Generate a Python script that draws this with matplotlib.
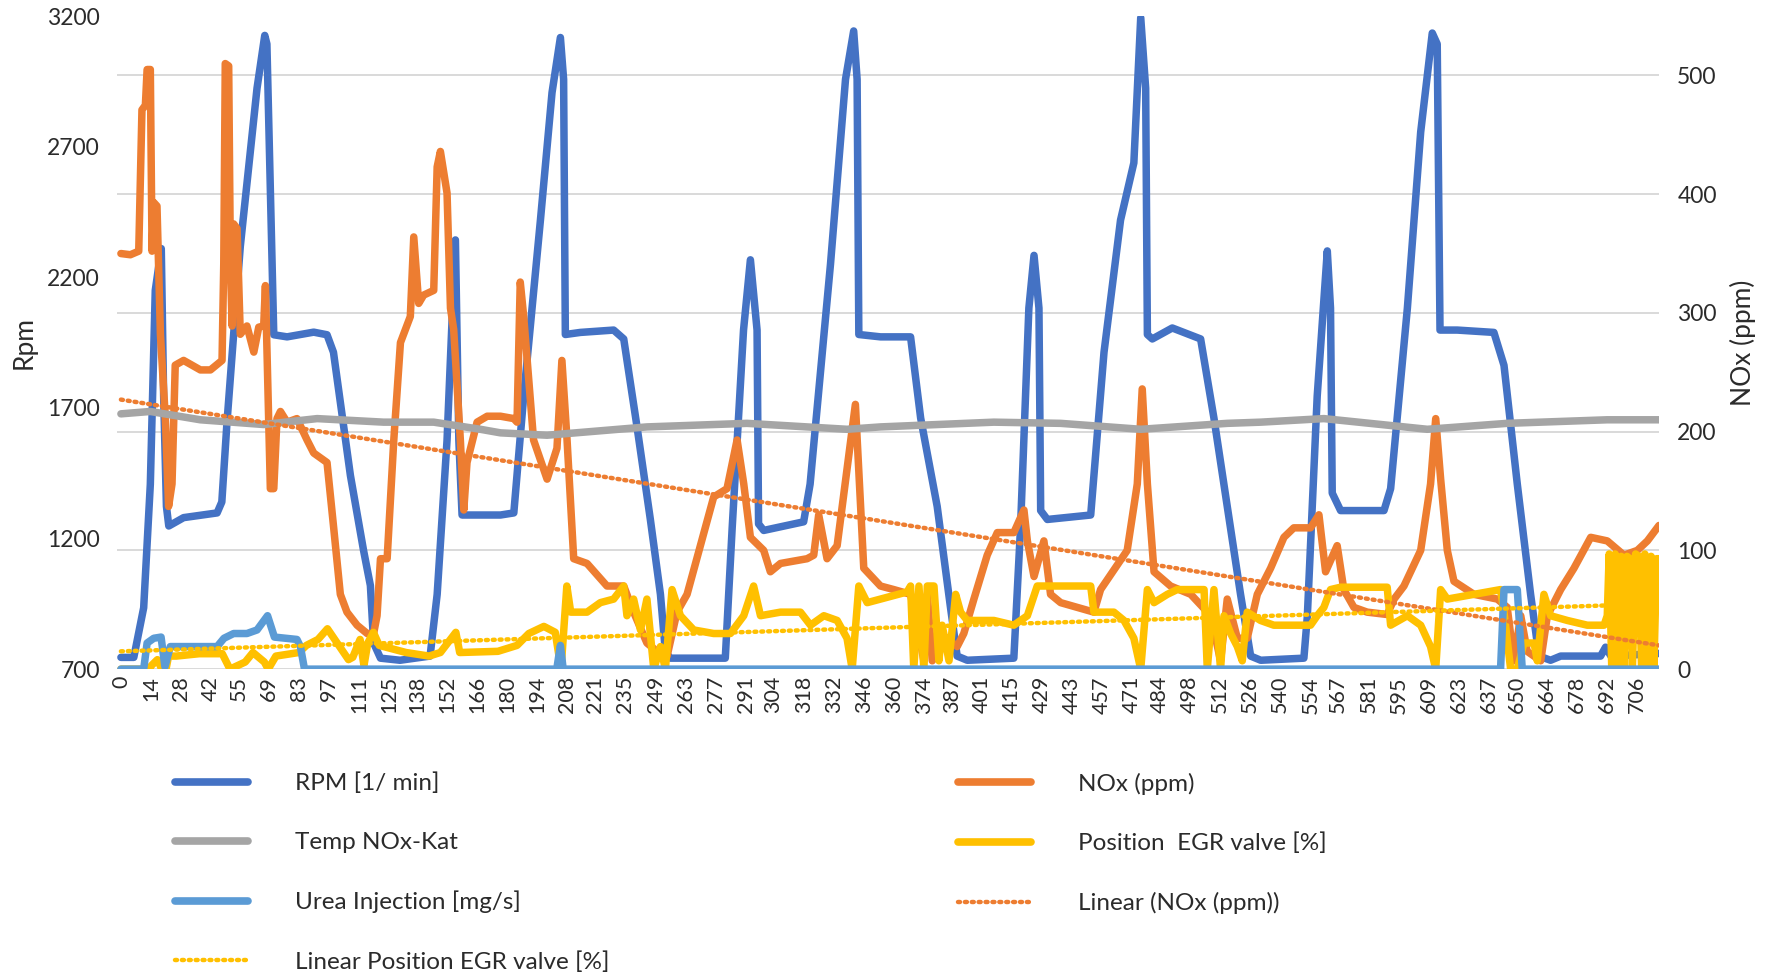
import numpy as np
import matplotlib.pyplot as plt
from matplotlib.lines import Line2D

plt.rcParams['font.family'] = ['Lato', 'DejaVu Sans']

# ---- data ----
rpm_t = [0, 6, 10.6, 13.7, 16, 18.8, 19.9, 21.2, 22.3, 29.2, 44.8, 47, 49.4, 55.6, 63.4, 67, 68, 71.2,
         77.4, 89.8, 96, 99, 106.9, 113, 116.2, 117.7, 120.9, 130, 144, 147.3, 151.9, 155.8, 157.4,
         158.9, 176.8, 183, 187.6, 195.4, 200.8, 204.7, 206.2, 207, 214, 229.5, 234.2, 240.4, 246.6,
         251.3, 253.6, 255.9, 281.5, 284.7, 290, 293.2, 296.3, 297, 299.4, 318, 321, 330.5, 337.5,
         341.3, 342.9, 343.7, 353.8, 367.8, 372.5, 380.2, 386.4, 389.5, 394.2, 415.9, 419, 422.9,
         425.3, 427.6, 428.4, 431.5, 451.7, 457.9, 465.6, 471.8, 475, 477.3, 478.1, 480.4, 489.7,
         502.9, 509.1, 515.3, 521.5, 526.2, 530.9, 551, 552.6, 557.2, 561.9, 563.4, 564.2, 568.1,
         588.3, 591.4, 599.2, 605.4, 610.8, 613.1, 614.4, 622.4, 639.5, 644.2, 650.4, 656.6, 660.5,
         665.9, 670.6, 689.2, 691.5, 694, 716.4]
rpm = [745, 745, 935, 1408, 2150, 2310, 1745, 1323, 1248, 1280, 1298, 1340, 1644, 2318, 2924, 3126,
       3093, 1980, 1972, 1990, 1980, 1913, 1441, 1155, 1020, 800, 742, 734, 750, 986, 1576, 2343,
       1576, 1290, 1290, 1298, 1745, 2419, 2907, 3118, 2958, 1981, 1989, 1998, 1964, 1627, 1273,
       986, 767, 742, 742, 1239, 1998, 2267, 1998, 1256, 1231, 1264, 1408, 2250, 2958, 3143, 2958,
       1981, 1972, 1972, 1661, 1323, 936, 750, 734, 742, 1239, 2082, 2284, 2082, 1307, 1273, 1290,
       1913, 2419, 2638, 3194, 2924, 1981, 1964, 2006, 1964, 1661, 1323, 986, 750, 734, 742, 902,
       1745, 2301, 2082, 1374, 1307, 1307, 1391, 2082, 2756, 3135, 3093, 1998, 1998, 1989, 1863,
       1408, 986, 750, 734, 750, 750, 784, 750, 760]

nox_t = [0, 4.4, 8.3, 9.8, 11.4, 12.2, 13.7, 14.5, 15.3, 16.8, 18.4, 20.7, 22.2, 23.8, 25.3, 29.2, 37,
         41.7, 47.1, 47.9, 48.6, 50.2, 51, 51.8, 52.5, 54.1, 55.6, 58.7, 61.9, 64.2, 66.5, 67.3, 69.6,
         71.2, 72.7, 74.3, 77.4, 82, 86.7, 89.8, 96, 99.1, 102.2, 105.3, 110, 114.7, 117.7, 119.3,
         120.9, 124, 127.1, 130.2, 134.8, 136.4, 138.7, 141, 145.7, 147.3, 148.8, 151.9, 153.5, 155,
         158.1, 159.7, 161.2, 165.9, 170.6, 176.8, 183, 184.5, 186, 187.6, 192.2, 198.5, 203.1, 205.4,
         207.8, 210.9, 217.1, 226.4, 234.2, 238.8, 245, 249.7, 254.4, 259, 263.7, 269.9, 276.1, 282.3,
         287, 290.1, 293.2, 299.4, 302.5, 307.2, 319.6, 322.7, 325, 328.9, 333.6, 342.1, 346, 353.8,
         360, 367.8, 370.9, 374, 375.6, 377.9, 381.8, 389.5, 392.6, 397.3, 403.5, 408.2, 415.9, 420.6,
         422.2, 425.3, 429.9, 433, 437.7, 453.2, 456.3, 468.7, 473.4, 475.7, 478.1, 481.2, 488.9,
         498.3, 507.6, 512.2, 515.3, 520, 524.6, 529.3, 535.5, 541.7, 546.3, 554.1, 558, 561.1, 566.5,
         569.6, 574.3, 580.5, 589.8, 593, 597.6, 605.4, 610, 612.4, 614.7, 617.8, 620.9, 630.2, 641.1,
         645.7, 648.8, 652, 655, 661.3, 664.4, 670.6, 676.8, 684.6, 692.3, 700.1, 706.3, 711, 716.4]
nox = [350, 349, 352, 471, 475, 505, 505, 352, 393, 390, 282, 211, 137, 156, 256, 260, 252, 252, 260,
       341, 510, 508, 341, 289, 375, 371, 282, 289, 267, 288, 289, 323, 152, 152, 211, 217, 208, 211,
       193, 182, 174, 119, 63, 48, 37, 30, 30, 45, 93, 93, 193, 275, 297, 364, 308, 315, 319, 423,
       436, 401, 304, 286, 193, 134, 174, 208, 213, 213, 211, 208, 326, 297, 193, 160, 186, 260, 193,
       93, 89, 70, 70, 48, 22, 15, 11, 48, 63, 104, 145, 152, 193, 156, 111, 100, 82, 89, 93, 96,
       130, 93, 104, 223, 85, 70, 67, 63, 37, 7, 63, 7, 30, 19, 30, 59, 96, 115, 115, 134, 108, 78,
       108, 63, 56, 48, 67, 100, 156, 236, 156, 82, 70, 63, 45, 7, 59, 26, 26, 63, 85, 111, 119,
       119, 130, 82, 104, 67, 52, 48, 46, 59, 70, 100, 156, 211, 160, 100, 74, 63, 59, 52, 7, 45,
       15, 7, 45, 67, 85, 111, 108, 96, 100, 108, 121]

temp_t = [0, 13.7, 37, 66.5, 91.4, 122.4, 145.7, 167.4, 176.8, 198.5, 245, 291.6, 338.2, 353.8, 406.6,
          437.7, 475, 515.3, 530.9, 560.3, 608.5, 645.7, 692.3, 716.4]
temp = [215, 217, 210, 206, 211, 208, 208, 202, 199, 197, 204, 207, 202, 204, 208, 207, 202, 207, 208,
        211, 202, 207, 210, 210]

egr_t = [0, 13.3, 14.2, 17, 19, 21, 22.2, 25.8, 36.5, 47.2, 50.8, 57.9, 61.5, 66.8, 68.6, 72.2, 82.9,
         86.4, 91.8, 96.2, 100.7, 106, 108, 111.4, 113.2, 115, 117.6, 120.3, 132.8, 143.5, 148.8, 156,
         157.8, 175.6, 184.5, 190, 197, 202.3, 205, 207.7, 209.5, 217.1, 223.3, 229.5, 234.2, 235.7,
         238.8, 242, 245, 248.2, 251.3, 253.6, 256.7, 260.6, 266.8, 276.1, 283.9, 290.1, 294.7, 297.9,
         307.2, 316.5, 321.2, 327.4, 333.6, 338.2, 340.6, 343.7, 347.6, 353.8, 366.2, 367.8, 369.3,
         371.7, 374, 375.6, 378.7, 381, 382.5, 385.7, 388.8, 391.1, 394.2, 406.6, 415.9, 422.2, 426.8,
         437.7, 451.7, 453.2, 462.5, 467.2, 471.8, 475, 478.1, 481.2, 487.4, 492, 504.5, 506, 509.1,
         512.2, 513.8, 516.9, 520, 522.3, 524.6, 530.8, 537, 554.1, 557.2, 560.3, 563.4, 568.1, 589.8,
         591.4, 599.2, 605.4, 610, 612.4, 614.7, 617.8, 630.2, 642.6, 644.2, 647.3, 650.4, 653.5,
         658.2, 659.7, 662.8, 665.9, 673.7, 683, 690.8, 692.3, 693.2, 694.4, 696, 697.3, 698.8, 700,
         701.5, 702.8, 704, 705.5, 707, 708.3, 709.8, 711.2, 712.7, 714, 715.3, 716.4]
egr = [0, 0, 3, 8, 0, 0, 11, 11, 13, 13, 0, 6, 14, 6, 0, 11, 14, 20, 25, 34, 22, 8, 10, 25, 3, 22, 31,
       20, 14, 11, 14, 31, 14, 15, 20, 30, 36, 31, 0, 70, 48, 48, 56, 59, 70, 45, 59, 33, 59, 0, 19,
       0, 67, 45, 33, 30, 30, 45, 70, 45, 48, 48, 37, 45, 41, 26, 0, 70, 56, 59, 65, 70, 0, 70, 0, 70,
       70, 7, 37, 7, 63, 48, 41, 41, 37, 45, 70, 70, 70, 48, 48, 41, 26, 0, 67, 56, 63, 67, 67, 0, 67,
       0, 45, 30, 19, 7, 48, 41, 37, 37, 45, 52, 67, 69, 69, 37, 45, 37, 19, 0, 67, 59, 63, 67, 48, 0,
       0, 22, 22, 7, 63, 45, 41, 37, 37, 45, 97, 0, 97, 0, 95, 0, 95, 93, 0, 97, 95, 0, 97, 0, 95, 0,
       93, 93]

urea_t = [0, 10.6, 12.2, 15.3, 18.7, 20.5, 23, 44.8, 48, 52.5, 58.7, 63.4, 68.3, 71.5, 82, 83.6, 85.5,
          203, 204.7, 206, 642.6, 644.2, 650.4, 652.7, 716.4]
urea = [0, 0, 22, 26, 27, 2, 19, 19, 26, 30, 30, 33, 45, 27, 25, 19, 0, 0, 20, 0, 0, 67, 67, 0, 0]

trend_t = [0, 716.4]
nox_trend = [227, 20]
egr_trend = [15, 55]

x_ticks = [0, 14, 28, 42, 55, 69, 83, 97, 111, 125, 138, 152, 166, 180, 194, 208, 221, 235, 249, 263,
           277, 291, 304, 318, 332, 346, 360, 374, 387, 401, 415, 429, 443, 457, 471, 484, 498, 512,
           526, 540, 554, 567, 581, 595, 609, 623, 637, 650, 664, 678, 692, 706]
rpm_ticks = [700, 1200, 1700, 2200, 2700, 3200]
nox_ticks = [0, 100, 200, 300, 400, 500]

c_rpm = '#4472C4'
c_nox = '#ED7D31'
c_temp = '#A5A5A5'
c_egr = '#FFC000'
c_urea = '#5B9BD5'
txt = '#2b2b2b'

fig = plt.figure(figsize=(17.67, 9.74), dpi=100)
ax1 = fig.add_axes([0.066, 0.313, 0.873, 0.6705])
ax2 = ax1.twinx()

rpm_lim = (700, 3200)
nox_lim = (0, 550)

# gridlines belong to the right axis, drawn behind the rpm line
for v in nox_ticks:
    y = rpm_lim[0] + v * (rpm_lim[1] - rpm_lim[0]) / (nox_lim[1] - nox_lim[0])
    ax1.axhline(y, color='#D9D9D9', lw=1.4, zorder=0)

lw = 5.4
dots = (0, (0.45, 1.1))
kw = dict(solid_joinstyle='round', solid_capstyle='round')
ax1.plot(rpm_t, rpm, color=c_rpm, lw=lw, **kw)

ax2.plot(nox_t, nox, color=c_nox, lw=lw, **kw)
ax2.plot(temp_t, temp, color=c_temp, lw=lw, **kw)
ax2.plot(egr_t, egr, color=c_egr, lw=lw, **kw)
ax2.plot(urea_t, urea, color=c_urea, lw=lw, **kw)
ax2.plot(trend_t, nox_trend, color=c_nox, lw=3.2, linestyle=dots, dash_capstyle='round')
ax2.plot(trend_t, egr_trend, color=c_egr, lw=3.2, linestyle=dots, dash_capstyle='round')

ax1.set_xlim(-2, 716.5)
ax1.set_ylim(*rpm_lim)
ax2.set_ylim(*nox_lim)

ax1.set_xticks(x_ticks)
ax1.set_xticklabels([str(v) for v in x_ticks], rotation=90, fontsize=15.5, color=txt)
ax1.set_yticks(rpm_ticks)
ax1.set_yticklabels([str(v) for v in rpm_ticks], fontsize=16.5, color=txt)
ax2.set_yticks(nox_ticks)
ax2.set_yticklabels([str(v) for v in nox_ticks], fontsize=16.5, color=txt)
ax1.tick_params(axis='x', length=0, pad=5)
ax1.tick_params(axis='y', length=0, pad=12)
ax2.tick_params(axis='y', length=0, pad=13)

for a in (ax1, ax2):
    for s in a.spines.values():
        s.set_visible(False)

ax1.set_ylabel('Rpm', fontsize=19, color=txt)
ax1.yaxis.set_label_coords(-0.052, 0.5)
ax2.set_ylabel('NOx (ppm)', fontsize=19, color=txt, rotation=90)
ax2.yaxis.set_label_coords(1.046, 0.5)

def h(color, dotted=False):
    if dotted:
        return Line2D([], [], color=color, lw=3.2, linestyle=dots, dash_capstyle='round')
    return Line2D([], [], color=color, lw=5.5, solid_capstyle='round')

leg_kw = dict(frameon=False, fontsize=17.5, handlelength=3.0, handletextpad=1.95,
              labelspacing=1.55, borderpad=0, borderaxespad=0, loc='upper left',
              bbox_transform=fig.transFigure, labelcolor=txt)
leg1 = fig.legend([h(c_rpm), h(c_temp), h(c_urea), h(c_egr, True)],
                  ['RPM [1/ min]', 'Temp NOx-Kat', 'Urea Injection [mg/s]', 'Linear Position EGR valve [%]'],
                  bbox_to_anchor=(0.099, 0.2065), **leg_kw)
leg2 = fig.legend([h(c_nox), h(c_egr), h(c_nox, True)],
                  ['NOx (ppm)', 'Position  EGR valve [%]', 'Linear (NOx (ppm))'],
                  bbox_to_anchor=(0.542, 0.2065), **leg_kw)

fig.savefig('out.png', dpi=100)
